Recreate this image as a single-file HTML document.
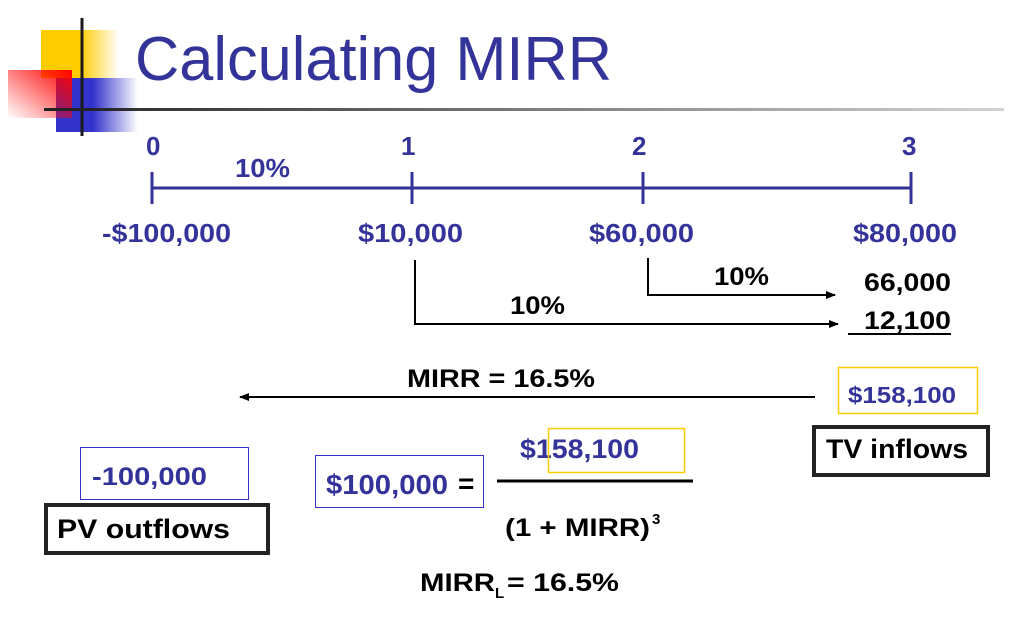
<!DOCTYPE html>
<html><head><style>
html,body{margin:0;padding:0;background:#fff;width:1020px;height:618px;overflow:hidden}
svg{display:block}
text{font-family:"Liberation Sans",Arial,sans-serif;font-weight:bold}
</style></head><body>
<svg width="1020" height="618" viewBox="0 0 1020 618" xmlns="http://www.w3.org/2000/svg">
<defs>
<linearGradient id="gy" x1="0" x2="1"><stop offset="0" stop-color="#ffcc00"/><stop offset="0.5" stop-color="#ffcc00"/><stop offset="1" stop-color="#ffcc00" stop-opacity="0"/></linearGradient>
<linearGradient id="gb" x1="0" x2="1"><stop offset="0" stop-color="#3333cc"/><stop offset="0.45" stop-color="#3333cc"/><stop offset="1" stop-color="#3333cc" stop-opacity="0"/></linearGradient>
<linearGradient id="gr" x1="1" y1="0" x2="0" y2="1"><stop offset="0" stop-color="#ff0000"/><stop offset="1" stop-color="#ff0000" stop-opacity="0"/></linearGradient>
<linearGradient id="gl" x1="0" x2="1"><stop offset="0" stop-color="#222"/><stop offset="1" stop-color="#222" stop-opacity="0.2"/></linearGradient>
<marker id="ah" markerWidth="10" markerHeight="8" refX="9" refY="4" orient="auto" markerUnits="userSpaceOnUse"><path d="M0,0 L10,4 L0,8 z" fill="#000"/></marker>
</defs>
<rect x="41" y="30" width="78" height="48" fill="url(#gy)"/>
<rect x="56" y="78" width="82" height="54" fill="url(#gb)"/>
<rect x="8" y="70" width="64" height="48" fill="url(#gr)"/>
<line x1="82" y1="18" x2="82" y2="136" stroke="#1a1a1a" stroke-width="3"/>
<rect x="44" y="108" width="960" height="3" fill="url(#gl)"/>
<text x="135" y="80" font-size="62" fill="#333399" style="font-weight:normal" textLength="477" lengthAdjust="spacingAndGlyphs">Calculating MIRR</text>

<g stroke="#333399" stroke-width="3">
<line x1="152" y1="188" x2="912" y2="188"/>
<line x1="152" y1="172" x2="152" y2="204"/>
<line x1="412" y1="172" x2="412" y2="204"/>
<line x1="643" y1="172" x2="643" y2="204"/>
<line x1="911" y1="172" x2="911" y2="204"/>
</g>
<g fill="#333399" font-size="26">
<text x="146" y="155">0</text><text x="401" y="155">1</text><text x="632" y="155">2</text><text x="902" y="155">3</text>
<text x="235" y="177" textLength="55" lengthAdjust="spacingAndGlyphs">10%</text>
<text x="102" y="242" textLength="129" lengthAdjust="spacingAndGlyphs">-$100,000</text>
<text x="358" y="242" textLength="105" lengthAdjust="spacingAndGlyphs">$10,000</text>
<text x="589" y="242" textLength="105" lengthAdjust="spacingAndGlyphs">$60,000</text>
<text x="853" y="242" textLength="104" lengthAdjust="spacingAndGlyphs">$80,000</text>
</g>
<g stroke="#000" stroke-width="2" fill="none">
<polyline points="648,258 648,295 835,295" marker-end="url(#ah)"/>
<polyline points="415,260 415,324 838,324" marker-end="url(#ah)"/>
<line x1="848" y1="334" x2="951" y2="334"/>
<line x1="815" y1="397" x2="240" y2="397" marker-end="url(#ah)"/>
</g>
<g fill="#000" font-size="25">
<text x="714" y="285" textLength="55" lengthAdjust="spacingAndGlyphs">10%</text>
<text x="510" y="314" textLength="55" lengthAdjust="spacingAndGlyphs">10%</text>
<text x="864" y="291" textLength="87" lengthAdjust="spacingAndGlyphs">66,000</text>
<text x="864" y="329" textLength="87" lengthAdjust="spacingAndGlyphs">12,100</text>
<text x="407" y="387" textLength="188" lengthAdjust="spacingAndGlyphs">MIRR = 16.5%</text>
</g>
<rect x="838.5" y="367.5" width="139" height="46" fill="none" stroke="#ffcc00" stroke-width="1.5"/>
<text x="848" y="403" font-size="23" fill="#333399" textLength="108" lengthAdjust="spacingAndGlyphs">$158,100</text>
<rect x="814" y="427" width="174" height="48" fill="none" stroke="#222" stroke-width="4"/>
<text x="826" y="458" font-size="27" fill="#000" textLength="142" lengthAdjust="spacingAndGlyphs">TV inflows</text>
<rect x="80.5" y="447.5" width="168" height="52" fill="none" stroke="#3333cc" stroke-width="1"/>
<text x="92" y="485" font-size="25" fill="#333399" textLength="115" lengthAdjust="spacingAndGlyphs">-100,000</text>
<rect x="46" y="505" width="222" height="48" fill="none" stroke="#222" stroke-width="4"/>
<text x="57" y="538" font-size="27" fill="#000" textLength="173" lengthAdjust="spacingAndGlyphs">PV outflows</text>
<rect x="315.5" y="455.5" width="168" height="52" fill="none" stroke="#3333cc" stroke-width="1"/>
<text x="326" y="494" font-size="28" fill="#333399" textLength="122" lengthAdjust="spacingAndGlyphs">$100,000</text>
<text x="458" y="493" font-size="28" fill="#000">=</text>
<text x="520" y="458" font-size="27" fill="#333399" textLength="119" lengthAdjust="spacingAndGlyphs">$158,100</text>
<rect x="548.5" y="428.5" width="136" height="44" fill="none" stroke="#ffcc00" stroke-width="1.5"/>
<line x1="497" y1="481" x2="693" y2="481" stroke="#000" stroke-width="3"/>
<text x="505" y="536" font-size="25" fill="#000" textLength="145" lengthAdjust="spacingAndGlyphs">(1 + MIRR)</text>
<text x="652" y="524" font-size="15" fill="#000">3</text>
<text x="420" y="591" font-size="25" fill="#000" textLength="75" lengthAdjust="spacingAndGlyphs">MIRR</text>
<text x="495" y="598" font-size="15" fill="#000">L</text>
<text x="507" y="591" font-size="25" fill="#000" textLength="112" lengthAdjust="spacingAndGlyphs">= 16.5%</text>
</svg>
</body></html>
